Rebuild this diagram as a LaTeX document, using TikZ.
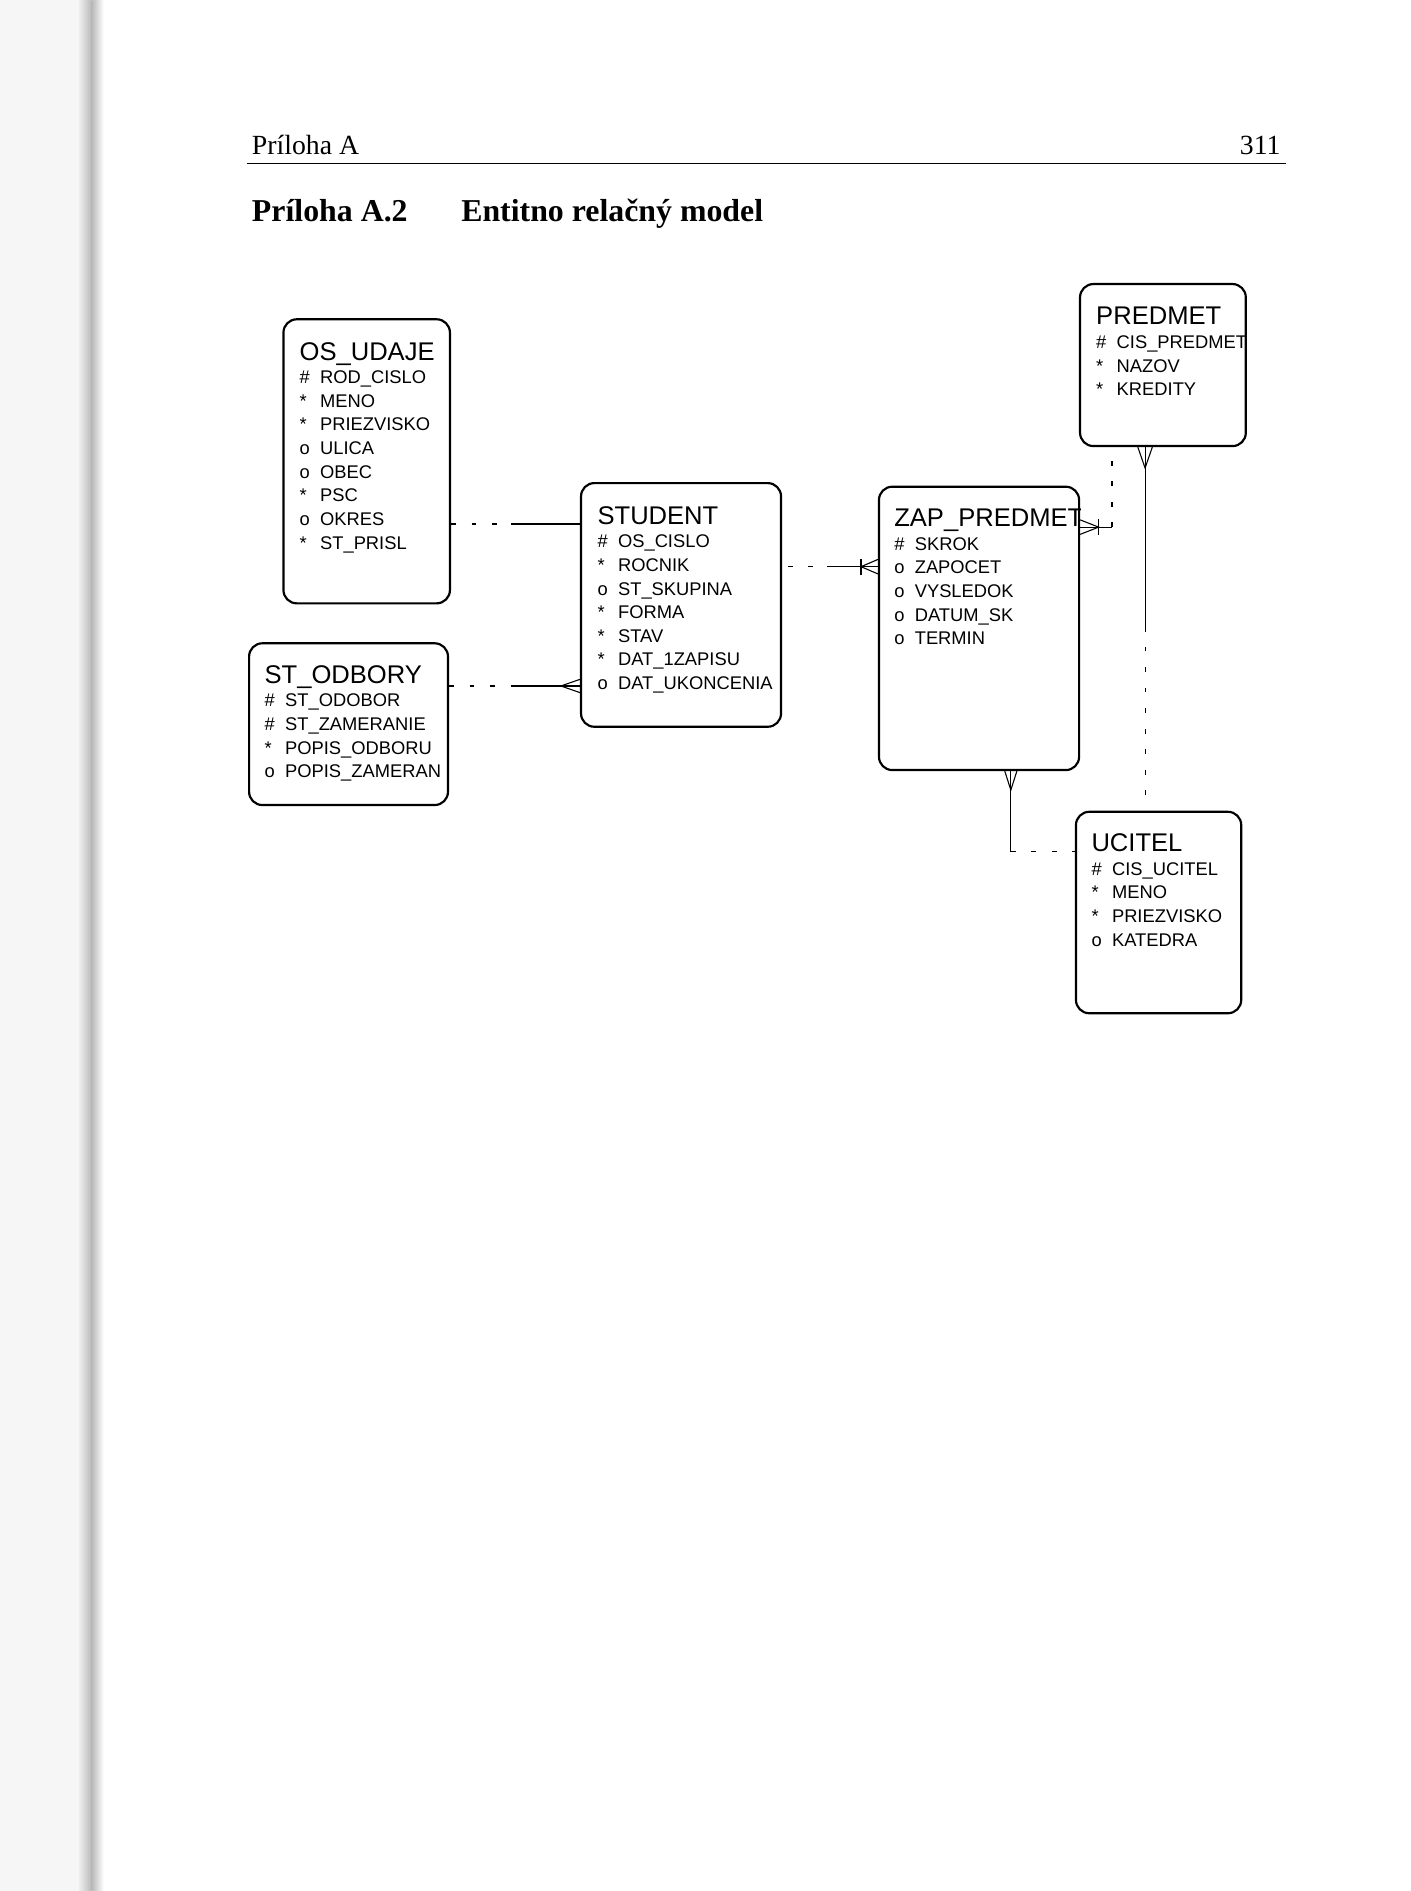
\documentclass[tikz,border=0pt]{standalone}
\usepackage{fontspec}
\setmainfont{Liberation Serif}
\newfontfamily\diafont{Liberation Sans}
\usetikzlibrary{fit}
\usetikzlibrary{calc}
\tikzset{
    entity/.style={draw, rounded corners=5.5pt, line width=0.9pt, inner sep=0pt},
    attrs/.style={anchor=base west, inner sep=0pt, font=\diafont\fontsize{7.6}{9.8}\selectfont},
    rel/.style={line width=0.45pt},
    opt/.style={dash pattern=on 2pt off 6.5pt},
}
\newcommand{\entname}[1]{{\fontsize{10.6}{9.8}\selectfont #1}}
\newcommand{\enttab}[1]{\begin{tabular}[t]{@{}l@{}}#1\end{tabular}}
\newcommand{\attrline}[2]{\makebox[8.5pt][l]{#1}#2}
\newcommand{\crowfoot}[3]{\draw[rel] ($(#2)+(#3)$) -- (#1) -- ($(#2)-(#3)$);}
\newcommand{\crossbar}[2]{\draw[rel] ($(#1)+(#2)$) -- ($(#1)-(#2)$);}

\begin{document}
\begin{tikzpicture}[x=0.5pt, y=-0.5pt]
		\useasboundingbox (0,0) rectangle (1169,1567.7);
		% page and the shadow of the binding
		\fill[white] (0,0) rectangle (1169,1567.7);
		\fill[gray!7] (0,0) rectangle (64,1567.7);
		\shade[left color=gray!7, right color=gray!55] (64,0) rectangle (76,1567.7);
		\shade[left color=gray!55, right color=white] (76,0) rectangle (86,1567.7);

		% running head
		\node[anchor=base west, inner sep=0pt, font=\fontsize{11.5}{13}\selectfont] (head) at (208.5,128.5) {Príloha A};
		\node[anchor=base east, inner sep=0pt, font=\fontsize{11.5}{13}\selectfont] (page) at (1062,128.5) {311};
		\draw[line width=0.75pt] (204.5,135.5) -- (1066,135.5);
		\node[anchor=base west, inner sep=0pt, font=\bfseries\fontsize{13.2}{15}\selectfont] (sec) at (208.5,184) {Príloha A.2};
		\node[anchor=base west, inner sep=0pt, font=\bfseries\fontsize{13.2}{15}\selectfont] (sectitle) at (382,184) {Entitno relačný model};

		% entities
		\node[entity, fit={(235,264.7) (373,500.2)}] (osudaje) {};
		\node[entity, fit={(206.5,533.3) (371.4,667.4)}] (stodbory) {};
		\node[entity, fit={(481.7,400.5) (647.5,602.5)}] (student) {};
		\node[entity, fit={(728.7,403.5) (894.6,638.4)}] (zappredmet) {};
		\node[entity, fit={(895.4,235.5) (1032.8,369.8)}] (predmet) {};
		\node[entity, fit={(892,673) (1029,840)}] (ucitel) {};

		\begin{scope}
			\clip[rounded corners=5.5pt] (osudaje.north west) rectangle (osudaje.south east);
			\node[attrs] (osudajeT) at (248,298.5) {\enttab{\entname{OS\_UDAJE}\\ \attrline{\#}{ROD\_CISLO}\\ \attrline{*}{MENO}\\ \attrline{*}{PRIEZVISKO}\\ \attrline{o}{ULICA}\\ \attrline{o}{OBEC}\\ \attrline{*}{PSC}\\ \attrline{o}{OKRES}\\ \attrline{*}{ST\_PRISL}}};
		\end{scope}
		\begin{scope}
			\clip[rounded corners=5.5pt] (stodbory.north west) rectangle (stodbory.south east);
			\node[attrs] (stodboryT) at (219,566.5) {\enttab{\entname{ST\_ODBORY}\\ \attrline{\#}{ST\_ODOBOR}\\ \attrline{\#}{ST\_ZAMERANIE}\\ \attrline{*}{POPIS\_ODBORU}\\ \attrline{o}{POPIS\_ZAMERAN}}};
		\end{scope}
		\begin{scope}
			\clip[rounded corners=5.5pt] (student.north west) rectangle (student.south east);
			\node[attrs] (studentT) at (495,434.5) {\enttab{\entname{STUDENT}\\ \attrline{\#}{OS\_CISLO}\\ \attrline{*}{ROCNIK}\\ \attrline{o}{ST\_SKUPINA}\\ \attrline{*}{FORMA}\\ \attrline{*}{STAV}\\ \attrline{*}{DAT\_1ZAPISU}\\ \attrline{o}{DAT\_UKONCENIA}}};
		\end{scope}
		\begin{scope}
			\clip[rounded corners=5.5pt] (zappredmet.north west) rectangle (zappredmet.south east);
			\node[attrs] (zappredmetT) at (741,436.6) {\enttab{\entname{ZAP\_PREDMET}\\ \attrline{\#}{SKROK}\\ \attrline{o}{ZAPOCET}\\ \attrline{o}{VYSLEDOK}\\ \attrline{o}{DATUM\_SK}\\ \attrline{o}{TERMIN}}};
		\end{scope}
		\begin{scope}
			\clip[rounded corners=5.5pt] (predmet.north west) rectangle (predmet.south east);
			\node[attrs] (predmetT) at (908.4,269.4) {\enttab{\entname{PREDMET}\\ \attrline{\#}{CIS\_PREDMET}\\ \attrline{*}{NAZOV}\\ \attrline{*}{KREDITY}}};
		\end{scope}
		\begin{scope}
			\clip[rounded corners=5.5pt] (ucitel.north west) rectangle (ucitel.south east);
			\node[attrs] (ucitelT) at (904.5,706) {\enttab{\entname{UCITEL}\\ \attrline{\#}{CIS\_UCITEL}\\ \attrline{*}{MENO}\\ \attrline{*}{PRIEZVISKO}\\ \attrline{o}{KATEDRA}}};
		\end{scope}

		% relationships
		\coordinate (osA) at (424,434.4);
		\draw[rel, opt] (osudaje.east |- osA) -- (osA);
		\draw[rel] (osA) -- (student.west |- osA);

		\coordinate (odB) at (424,568.7);
		\coordinate (odBc) at (465,568.7);
		\draw[rel, opt] (stodbory.east |- odB) -- (odB);
		\draw[rel] (odB) -- (student.west |- odB);
		\crowfoot{odBc}{student.west |- odB}{0,5.5}

		\coordinate (stC) at (686,469.8);
		\coordinate (stCc) at (713.8,469.8);
		\draw[rel, opt, dash phase=6.15pt] (student.east |- stC) -- (stC);
		\draw[rel] (stC) -- (zappredmet.west |- stC);
		\crossbar{stCc}{0,6.5}
		\crowfoot{stCc}{zappredmet.west |- stC}{0,6}

		\coordinate (zpD) at (921.9,437);
		\coordinate (zpDc) at (910.8,437);
		\draw[rel] (zappredmet.east |- zpD) -- (zpD);
		\draw[rel, opt] (zpD) -- (predmet.south -| zpD);
		\crossbar{zpDc}{0,6.5}
		\crowfoot{zpDc}{zappredmet.east |- zpD}{0,6}

		\coordinate (prE) at (949.3,523.7);
		\coordinate (prEc) at (949.3,388);
		\draw[rel] (predmet.south -| prE) -- (prE);
		\draw[rel, opt, dash phase=2pt] (ucitel.north -| prE) -- (prE);
		\crowfoot{prEc}{predmet.south -| prE}{6,0}

		\coordinate (zpF) at (838,706);
		\coordinate (zpFc) at (838,655);
		\draw[rel] (zappredmet.south -| zpF) -- (zpF);
		\draw[rel, opt] (zpF) -- (ucitel.west |- zpF);
		\crowfoot{zpFc}{zappredmet.south -| zpF}{5,0}
	\end{tikzpicture}
\end{document}
